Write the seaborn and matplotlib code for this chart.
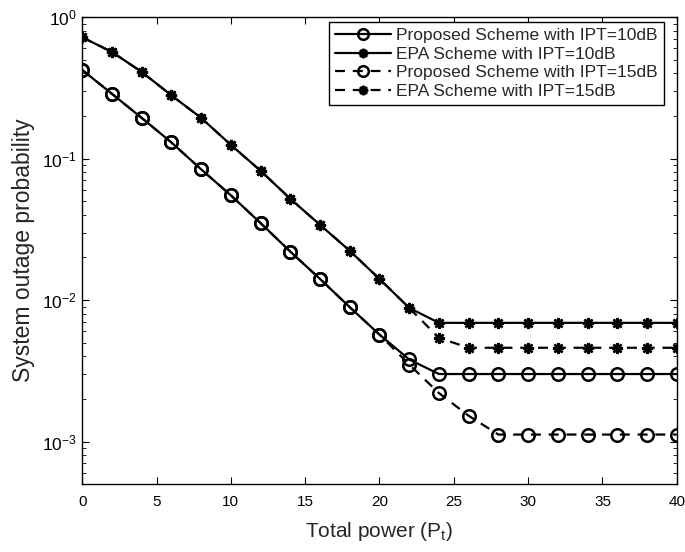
import numpy as np
import pandas as pd
import matplotlib
matplotlib.use("Agg")
import matplotlib.pyplot as plt
import seaborn as sns
from matplotlib.ticker import LogLocator, NullFormatter

sns.set_style("ticks")
plt.rcParams["font.family"] = ["Liberation Sans", "DejaVu Sans"]
plt.rcParams["mathtext.fontset"] = "custom"
plt.rcParams["mathtext.rm"] = "Liberation Sans"
plt.rcParams["mathtext.it"] = "Liberation Sans"

# total power axis (dB)
power = [0, 2, 4, 6, 8, 10, 12, 14, 16, 18, 20, 22, 24, 26, 28, 30, 32, 34, 36, 38, 40]

prop_10 = [0.423, 0.287, 0.194, 0.130, 0.084, 0.055, 0.035, 0.022, 0.0141, 0.0089,
           0.0057, 0.0038, 0.0030, 0.0030, 0.0030, 0.0030, 0.0030, 0.0030, 0.0030, 0.0030, 0.0030]
epa_10 = [0.72, 0.567, 0.41, 0.28, 0.194, 0.125, 0.082, 0.052, 0.034, 0.0223,
          0.0141, 0.0088, 0.0069, 0.0069, 0.0069, 0.0069, 0.0069, 0.0069, 0.0069, 0.0069, 0.0069]
prop_15 = [0.423, 0.287, 0.194, 0.130, 0.084, 0.055, 0.035, 0.022, 0.0141, 0.0089,
           0.0057, 0.0035, 0.0022, 0.00152, 0.00112, 0.00112, 0.00112, 0.00112, 0.00112, 0.00112, 0.00112]
epa_15 = [0.72, 0.567, 0.41, 0.28, 0.194, 0.125, 0.082, 0.052, 0.034, 0.0223,
          0.0141, 0.0088, 0.0054, 0.0046, 0.0046, 0.0046, 0.0046, 0.0046, 0.0046, 0.0046, 0.0046]

dash = (0, (4.5, 3.5))
series = [
    ("Proposed Scheme with IPT=10dB", prop_10, "o", "-"),
    ("EPA Scheme with IPT=10dB", epa_10, (8, 2, 0), "-"),
    ("Proposed Scheme with IPT=15dB", prop_15, "o", dash),
    ("EPA Scheme with IPT=15dB", epa_15, (8, 2, 0), dash),
]

fig = plt.figure(figsize=(6.85, 5.52), dpi=100)
ax = fig.add_axes([0.12, 0.123, 0.868, 0.846])

for name, vals, mk, ls in series:
    sns.lineplot(x=power, y=vals, ax=ax, color="black", linewidth=1.6, linestyle=ls,
                 marker=mk, markersize=9 if mk == "o" else 8, markerfacecolor="none",
                 markeredgecolor="black", markeredgewidth=1.8, label=name)

ax.set_yscale("log")
ax.set_xlim(0, 40)
ax.set_ylim(5e-4, 1)
ax.set_xticks(range(0, 41, 5))
ax.yaxis.set_major_locator(LogLocator(base=10, numticks=10))
ax.yaxis.set_minor_locator(LogLocator(base=10, subs=np.arange(2, 10), numticks=10))
ax.yaxis.set_minor_formatter(NullFormatter())
ax.tick_params(which="both", direction="in", top=True, right=True, labelsize=11, colors="black")
ax.tick_params(axis="y", labelsize=12.5, pad=4)
ax.tick_params(which="major", length=5)
ax.tick_params(which="minor", length=3)
ax.tick_params(axis="x", pad=8)
for s in ax.spines.values():
    s.set_linewidth(1.0)
    s.set_color("black")

ax.set_xlabel("Total power (P$_t$)", fontsize=15, labelpad=8)
ax.set_ylabel("System outage probability", fontsize=16.5, labelpad=5)

leg = ax.legend(loc="upper right", bbox_to_anchor=(0.978, 0.99), fontsize=12.5,
                frameon=True, fancybox=False, edgecolor="black", framealpha=1,
                handlelength=3.2, borderpad=0.35, labelspacing=0.2, handletextpad=0.3,
                borderaxespad=0, markerscale=0.85)
leg.get_frame().set_linewidth(1.0)

fig.savefig("out.png", dpi=100)
